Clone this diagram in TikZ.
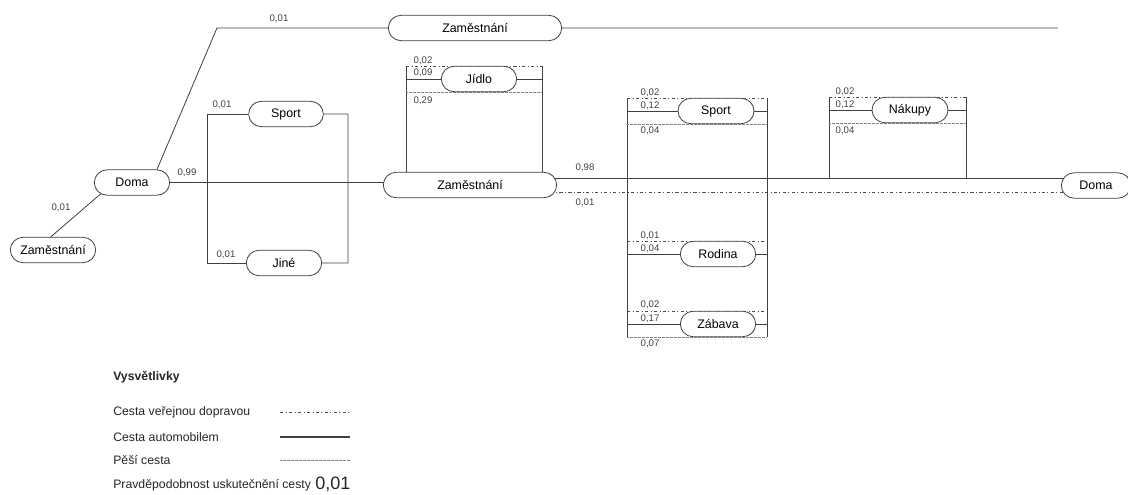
\documentclass[tikz,border=0pt]{standalone}
\usepackage{fontspec}
\setmainfont{Liberation Sans}
\usetikzlibrary{shapes.misc}
\pgfdeclarelayer{bg}
\pgfsetlayers{bg,main}
\tikzset{
  place/.style={draw=black!75, fill=white, line width=0.6pt, rounded rectangle, minimum height=19pt, inner sep=1pt, font=\fontsize{9.3}{10}\selectfont},
  prob/.style={font=\fontsize{7.2}{8}\selectfont, text=black!75, inner sep=0pt},
  car/.style={draw=black!75, line width=0.6pt},
  pub/.style={draw=black!70, line width=0.6pt, dash pattern=on 2.5pt off 1.8pt on 0.6pt off 1.8pt},
  walk/.style={draw=black!50, line width=0.5pt, dash pattern=on 0.5pt off 0.5pt},
  legtext/.style={anchor=west, inner sep=0pt, text=black!85, font=\fontsize{9.2}{11}\selectfont},
}

\begin{document}
\begin{tikzpicture}[x=0.75pt,y=-0.75pt]
        \useasboundingbox (0,0) rectangle (1128,495);
        \node[place, minimum width=66pt] (zamL) at (53,250) {Zaměstnání};
        \node[place, minimum width=58.5pt] (domaL) at (132,182.5) {Doma};
        \node[place, minimum width=132pt] (zamT) at (475,28) {Zaměstnání};
        \node[place, minimum width=132pt] (zamM) at (470,185) {Zaměstnání};
        \node[place, minimum width=58pt] (sportL) at (286,114) {Sport};
        \node[place, minimum width=58.5pt] (jine) at (284,263) {Jiné};
        \node[place, minimum width=58.5pt] (jidlo) at (479,79) {Jídlo};
        \node[place, minimum width=59pt] (sportR) at (716,111) {Sport};
        \node[place, minimum width=58.5pt] (rodina) at (718,254) {Rodina};
        \node[place, minimum width=58.5pt] (zabava) at (718,324) {Zábava};
        \node[place, minimum width=59pt] (nakupy) at (910,110) {Nákupy};
        \node[place, minimum width=54pt] (domaR) at (1096,185.5) {Doma};

        \coordinate (bend) at (217,28);
        \coordinate (endT) at (1058,28);
        \coordinate (carY) at (0,178);
        \coordinate (pubY) at (0,192);
        \coordinate (bl) at (207,0);
        \coordinate (br) at (348,0);
        \coordinate (jl) at (406,0);
        \coordinate (jr) at (542,0);
        \coordinate (sl) at (627,0);
        \coordinate (sr) at (767,0);
        \coordinate (nl) at (829,0);
        \coordinate (nr) at (966,0);

        \begin{pgfonlayer}{bg}
        \draw[car] (zamL.100) -- (domaL.200);
        \draw[car] (domaL.north east) -- (bend) -- (zamT) -- (endT);
        \draw[car] (domaL) -- (domaL -| zamM);
        \draw[car] (zamM |- carY) -- (domaR |- carY);
        \draw[pub] (zamM |- pubY) -- (domaR |- pubY);

        \draw[car] (sportL) -- (sportL -| bl) -- (jine -| bl) -- (jine);
        \draw[car] (sportL) -- (sportL -| br) -- (jine -| br) -- (jine);

        \draw[car] (jl |- zamM.north) -- (jl |- jidlo.north) (jr |- zamM.north) -- (jr |- jidlo.north);
        \draw[pub] (jl |- jidlo.north) -- (jr |- jidlo.north);
        \draw[car] (jl |- jidlo) -- (jr |- jidlo);
        \draw[walk] (jl |- jidlo.south) -- (jr |- jidlo.south);

        \draw[car] (sl |- sportR.north) -- (sl |- zabava.south) (sr |- sportR.north) -- (sr |- zabava.south);
        \foreach \n in {sportR,rodina,zabava} {
          \draw[pub] (sl |- \n.north) -- (sr |- \n.north);
          \draw[car] (sl |- \n) -- (sr |- \n);
        }
        \foreach \n in {sportR,zabava}
          \draw[walk] (sl |- \n.south) -- (sr |- \n.south);

        \draw[car] (nl |- nakupy.north) -- (nl |- carY) (nr |- nakupy.north) -- (nr |- carY);
        \draw[pub] (nl |- nakupy.north) -- (nr |- nakupy.north);
        \draw[car] (nl |- nakupy) -- (nr |- nakupy);
        \draw[walk] (nl |- nakupy.south) -- (nr |- nakupy.south);
        \end{pgfonlayer}

        \node[prob] (p1) at (279,19) {0,01};
        \node[prob] (p2) at (187,173) {0,99};
        \node[prob] (p3) at (61,208) {0,01};
        \node[prob] (p4) at (222,105) {0,01};
        \node[prob] (p5) at (226,255) {0,01};
        \node[prob] (p6) at (423,61) {0,02};
        \node[prob] (p7) at (423,73) {0,09};
        \node[prob] (p8) at (423,101) {0,29};
        \node[prob] (p9) at (585,168) {0,98};
        \node[prob] (p10) at (585,203) {0,01};
        \node[prob] (p11) at (650,93) {0,02};
        \node[prob] (p12) at (650,106) {0,12};
        \node[prob] (p13) at (650,131) {0,04};
        \node[prob] (p14) at (650,236) {0,01};
        \node[prob] (p15) at (650,249) {0,04};
        \node[prob] (p16) at (650,305) {0,02};
        \node[prob] (p17) at (650,319) {0,17};
        \node[prob] (p18) at (650,344) {0,07};
        \node[prob] (p19) at (845,92) {0,02};
        \node[prob] (p20) at (845,105) {0,12};
        \node[prob] (p21) at (845,131) {0,04};

        \node[legtext, font=\bfseries\fontsize{9.2}{11}\selectfont] (leg) at (113,377) {Vysvětlivky};
        \node[legtext] (l1) at (113,412) {Cesta veřejnou dopravou};
        \node[legtext] (l2) at (113,437) {Cesta automobilem};
        \node[legtext] (l3) at (113,460) {Pěší cesta};
        \node[legtext] (l4) at (113,485) {Pravděpodobnost uskutečnění cesty};
        \node[legtext, font=\fontsize{13.5}{14}\selectfont] (l5) at (315,484) {0,01};
        \coordinate (s1) at (280,412);
        \coordinate (e1) at (350,412);
        \coordinate (s2) at (280,437);
        \coordinate (e2) at (350,437);
        \coordinate (s3) at (280,460);
        \coordinate (e3) at (350,460);
        \draw[pub] (s1) -- (e1);
        \draw[car, line width=0.9pt] (s2) -- (e2);
        \draw[walk] (s3) -- (e3);
    \end{tikzpicture}
\end{document}
